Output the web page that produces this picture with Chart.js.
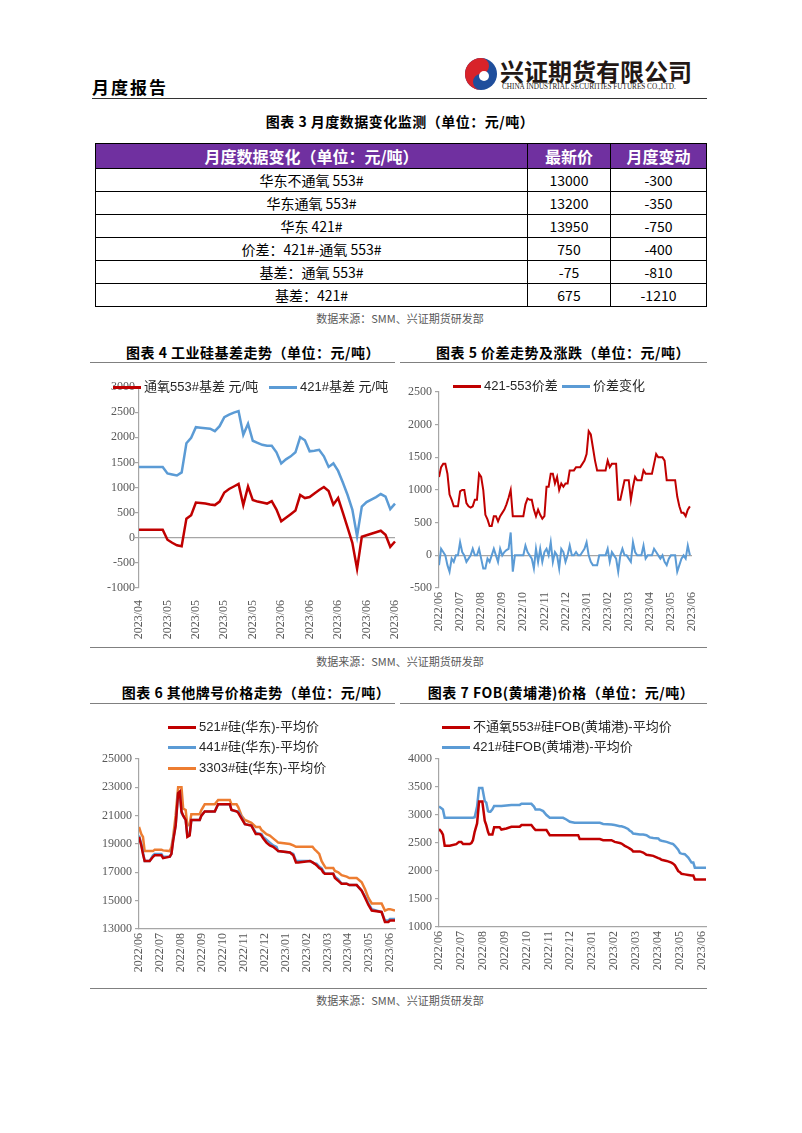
<!DOCTYPE html>
<html>
<head>
<meta charset="utf-8">
<script src="https://cdn.jsdelivr.net/npm/chart.js@4.4.1/dist/chart.umd.min.js"></script>
<style>
  body { margin: 0; background: #fff; }
  #page { position: relative; width: 802px; height: 1133px; overflow: hidden; font-family: "Noto Sans CJK SC", sans-serif; color: #000; }
  .title { position: absolute; font-weight: bold; font-size: 14px; line-height: 20px; white-space: nowrap; transform: translateX(-50%); letter-spacing: 0.5px; }
  .src { position: absolute; font-size: 11px; line-height: 16px; color: #595959; white-space: nowrap; transform: translateX(-50%); }
  .rule { position: absolute; height: 0; border-top: 1.5px solid #808080; }
  .leg { position: absolute; font-family: "Liberation Sans", "Noto Sans CJK SC", sans-serif; font-size: 13px; line-height: 16px; color: #262626; white-space: nowrap; }
  .legline { position: absolute; height: 3px; }
  canvas { position: absolute; }
  #tbl { position: absolute; left: 95px; top: 143px; width: 612px; border-collapse: collapse; border: 1.5px solid #000; font-size: 14px; }
  #tbl td, #tbl th { border: 1px solid #000; text-align: center; padding: 0; }
  #tbl th { background: #7030a0; color: #fff; font-size: 16px; font-weight: bold; height: 23px; }
  #tbl td { height: 22px; }
</style>
</head>
<body>
<div id="page">
  <div style="position:absolute;left:92px;top:75px;font-size:17px;font-weight:bold;letter-spacing:2px;line-height:24px;">月度报告</div>
  <svg width="34" height="34" viewBox="0 0 34 34" style="position:absolute;left:464px;top:57px">
    <circle cx="17" cy="17" r="16" fill="#1f4e9c"/>
    <path d="M17 1 A16 16 0 0 0 17 33 A8 8 0 0 1 17 17 A8 8 0 0 0 17 1Z" fill="#d8232a"/>
    <circle cx="20" cy="19" r="5" fill="#fff"/>
  </svg>
  <div style="position:absolute;left:500px;top:56px;font-size:24px;font-weight:bold;line-height:30px;color:#231815;">兴证期货有限公司</div>
  <div style="position:absolute;left:502px;top:83px;font-family:'Liberation Serif';font-size:7.2px;line-height:9px;color:#231815;white-space:nowrap;">CHINA INDUSTRIAL SECURITIES FUTURES CO.,LTD.</div>
  <div class="rule" style="left:92px;top:98px;width:615px;border-top:1.5px solid #333;"></div>

  <div class="title" style="left:400px;top:111px;">图表 3 月度数据变化监测（单位：元/吨）</div>
  <table id="tbl"></table>
  <div class="src" style="left:400px;top:310px;">数据来源：SMM、兴证期货研发部</div>

  <div class="title" style="left:253px;top:342px;">图表 4 工业硅基差走势（单位：元/吨）</div>
  <div class="title" style="left:563px;top:342px;">图表 5 价差走势及涨跌（单位：元/吨）</div>
  <div class="rule" style="left:90px;top:362px;width:305px;"></div>
  <div class="rule" style="left:400px;top:362px;width:307px;"></div>
  <canvas id="c4" width="306" height="275" style="left:92px;top:370px;"></canvas>
  <canvas id="c5" width="306" height="275" style="left:400px;top:370px;"></canvas>
  <div class="rule" style="left:90px;top:647px;width:617px;"></div>
  <div class="src" style="left:400px;top:653px;">数据来源：SMM、兴证期货研发部</div>

  <div class="title" style="left:256px;top:682px;">图表 6 其他牌号价格走势（单位：元/吨）</div>
  <div class="title" style="left:561px;top:682px;">图表 7 FOB(黄埔港)价格（单位：元/吨）</div>
  <div class="rule" style="left:90px;top:703px;width:305px;"></div>
  <div class="rule" style="left:400px;top:703px;width:307px;"></div>
  <canvas id="c6" width="306" height="245" style="left:92px;top:740px;"></canvas>
  <canvas id="c7" width="310" height="245" style="left:400px;top:740px;"></canvas>
  <div class="rule" style="left:90px;top:988px;width:617px;"></div>
  <div class="src" style="left:400px;top:992px;">数据来源：SMM、兴证期货研发部</div>
</div>

<script>
// table 3
const tableHead = ['月度数据变化（单位：元/吨）', '最新价', '月度变动'];
const tableItems = ['华东不通氧 553#', '华东通氧 553#', '华东 421#', '价差：421#-通氧 553#', '基差：通氧 553#', '基差：421#'];
const latestPrice = [13000, 13200, 13950, 750, -75, 675];
const monthlyChange = [-300, -350, -750, -400, -810, -1210];

// chart 4: basis, daily points
const basisTicks = ['2023/04', '2023/05', '2023/05', '2023/05', '2023/05', '2023/06', '2023/06', '2023/06', '2023/06', '2023/06'];
const basis553 = [160, 160, 160, 160, 160, 160, -40, -100, -150, -170, 380, 450, 700, 690, 680, 660, 650, 720, 900, 970,
  1020, 1070, 650, 1020, 750, 720, 700, 680, 730, 560, 330, 400, 470, 540, 850, 790, 810, 880, 950, 1010,
  930, 660, 790, 500, 200, -100, -620, 20, 50, 80, 110, 140, 60, -180, -75];
const basis421 = [1410, 1410, 1410, 1410, 1410, 1410, 1280, 1260, 1240, 1300, 1880, 1990, 2200, 2190, 2180, 2170, 2120, 2220, 2400, 2450,
  2490, 2520, 2050, 2270, 1930, 1890, 1850, 1830, 1830, 1700, 1480, 1560, 1620, 1700, 2000, 1940, 1720, 1730, 1750, 1620,
  1410, 1480, 1330, 1100, 850, 560, 30, 620, 710, 760, 810, 870, 820, 570, 680];

// month tick labels shared by charts 5-7
const monthTicks = ['2022/06', '2022/07', '2022/08', '2022/09', '2022/10', '2022/11', '2022/12', '2023/01', '2023/02', '2023/03', '2023/04', '2023/05', '2023/06'];

// chart 5: 421-553 spread, 10 samples per month
const spread = [1200, 1350, 1400, 1400, 1250, 930, 850, 750, 750, 750, 980, 1000, 1000, 800, 750, 730, 750, 850, 850, 1250,
  1200, 1000, 620, 550, 450, 450, 600, 600, 520, 600, 650, 700, 780, 880, 1000, 600, 600, 600, 600, 600,
  600, 780, 870, 850, 850, 700, 600, 700, 620, 560, 600, 1050, 1050, 1250, 1250, 1100, 1200, 1000, 1100, 1050,
  1100, 1100, 1300, 1300, 1300, 1350, 1350, 1350, 1400, 1450, 1550, 1900, 1850, 1650, 1450, 1300, 1300, 1300, 1300, 1300,
  1450, 1350, 1400, 1400, 1400, 850, 850, 1000, 1150, 1150, 1150, 850, 1050, 1200, 1150, 1150, 1150, 1300, 1250, 1250,
  1250, 1250, 1400, 1550, 1500, 1500, 1500, 1450, 1150, 1150, 1150, 1150, 1150, 900, 750, 650, 650, 600, 700, 750];
const spreadChange = [-150, 100, 50, 0, -150, -250, -50, -100, 0, 0, 200, 50, 0, -100, -50, 0, 100, 0, 0, 100,
  -50, -200, -200, -50, -100, 0, 100, 0, -100, 100, 0, 50, 80, 100, 350, -250, 0, 0, 0, 0,
  0, 150, 50, 0, -50, -200, 100, -100, 100, -100, 50, 100, 0, 200, -100, 50, 0, -200, 100, 50,
  -100, 0, 150, 0, 0, 50, 0, 0, 50, 100, 200, 0, -100, -150, -150, -150, 0, 0, 0, 0,
  100, -100, 50, 0, -50, -250, 0, 100, 0, 0, -50, -100, 200, 50, 0, 0, 0, 150, -50, 0,
  0, 0, 100, 50, 0, -50, 0, -100, -150, -50, 0, 0, 0, -250, -150, -50, 0, -50, 150, 0];
const samplesPerMonth = 10;

// chart 6: grade prices, time in months from 2022/06
const gradeMonths = [0, 0.11, 0.19, 0.27, 0.51, 0.67, 0.75, 1.07, 1.15, 1.47, 1.55, 1.63, 1.75, 1.87, 1.95, 2.03, 2.11, 2.23, 2.31, 2.42,
  2.50, 2.90, 2.98, 3.14, 3.62, 3.78, 4.34, 4.42, 4.66, 4.74, 4.90, 5.06, 5.37, 5.58, 5.77, 5.85, 5.93, 6.09, 6.25, 6.41,
  6.57, 6.65, 7.21, 7.37, 7.50, 7.61, 8.17, 8.29, 8.40, 8.48, 8.61, 8.72, 8.80, 8.88, 8.93, 9.28, 9.36, 9.52, 9.68, 9.92,
  10.05, 10.40, 10.64, 10.80, 10.96, 11.12, 11.59, 11.75, 11.91, 11.99, 12.23];
const price521 = [19500, 18900, 18300, 17800, 17800, 18100, 18200, 18200, 18000, 18100, 18300, 19200, 20300, 22600, 22700, 21300, 21000, 20700, 19500, 19600,
  20700, 20700, 21000, 21300, 21300, 21800, 21800, 21400, 21300, 21200, 20800, 20400, 20300, 19700, 19700, 19600, 19400, 19100, 18900, 18800,
  18600, 18500, 18400, 18200, 17700, 17700, 17800, 17700, 17600, 17500, 17300, 17200, 17000, 16900, 16900, 16900, 16600, 16400, 16200, 16200,
  16100, 16100, 15700, 15200, 14700, 14300, 14200, 13500, 13500, 13600, 13600];
const price441 = [19600, 19000, 18400, 17800, 17800, 18200, 18300, 18300, 18100, 18100, 18300, 19300, 20300, 22600, 22700, 21200, 21000, 20700, 19600, 19700,
  20700, 20700, 21000, 21300, 21300, 21800, 21800, 21400, 21300, 21300, 20900, 20400, 20300, 19800, 19700, 19700, 19500, 19300, 19100, 18900,
  18800, 18500, 18400, 18300, 17800, 17800, 17800, 17700, 17600, 17600, 17400, 17300, 17100, 16900, 16900, 16900, 16700, 16500, 16200, 16200,
  16100, 16100, 15700, 15300, 14800, 14400, 14200, 13600, 13600, 13700, 13700];
const price3303 = [20200, 19700, 19500, 18500, 18500, 18500, 18600, 18600, 18550, 18500, 18800, 19500, 21000, 23000, 23000, 23000, 21500, 21400, 20300, 20400,
  21100, 21100, 21400, 21800, 21800, 22100, 22100, 21800, 21800, 21600, 21000, 20700, 20500, 20200, 20200, 20000, 19900, 19700, 19600, 19400,
  19200, 19100, 19000, 18900, 18800, 18800, 18800, 18800, 18600, 18500, 18300, 17800, 17600, 17400, 17300, 17300, 17100, 17000, 16800, 16700,
  16600, 16600, 16300, 15800, 15200, 14800, 14800, 14300, 14400, 14400, 14300];

// chart 7: FOB Huangpu, time in months from 2022/06
const fobMonths = [0, 0.11, 0.18, 0.26, 0.49, 0.79, 0.91, 1.02, 1.10, 1.40, 1.48, 1.55, 1.63, 1.74, 1.83, 1.98, 2.09, 2.16, 2.24, 2.29,
  2.35, 2.44, 2.52, 2.77, 2.85, 3.08, 3.31, 3.38, 3.69, 3.77, 4.22, 4.34, 4.41, 4.60, 4.76, 4.91, 5.06, 5.67, 5.82, 5.98,
  6.20, 6.36, 6.43, 7.35, 7.50, 7.88, 8.03, 8.26, 8.34, 8.49, 8.64, 8.72, 8.80, 8.87, 9.18, 9.33, 9.48, 9.63, 9.79, 10.02,
  10.09, 10.17, 10.40, 10.62, 10.70, 10.78, 10.93, 11.01, 11.08, 11.23, 11.39, 11.54, 11.62, 11.69, 12.20];
const fob553 = [2750, 2700, 2650, 2450, 2450, 2480, 2520, 2520, 2480, 2480, 2500, 2550, 2700, 2850, 3240, 3240, 2900, 2820, 2700, 2650,
  2650, 2650, 2780, 2780, 2740, 2760, 2790, 2790, 2790, 2820, 2820, 2760, 2730, 2730, 2730, 2730, 2640, 2640, 2640, 2640,
  2640, 2640, 2570, 2570, 2550, 2550, 2520, 2500, 2490, 2450, 2420, 2400, 2380, 2350, 2350, 2330, 2290, 2280, 2270, 2230,
  2220, 2200, 2180, 2150, 2130, 2100, 2000, 1980, 1950, 1940, 1930, 1920, 1920, 1850, 1850];
const fob421 = [3150, 3120, 3100, 2950, 2950, 2950, 2950, 2950, 2950, 2950, 2950, 2950, 2960, 3150, 3480, 3480, 3250, 3220, 3070, 3060,
  3060, 3100, 3160, 3160, 3160, 3170, 3180, 3180, 3180, 3200, 3200, 3150, 3100, 3100, 3070, 3000, 2950, 2950, 2920, 2880,
  2860, 2860, 2860, 2860, 2840, 2830, 2820, 2800, 2800, 2780, 2750, 2720, 2700, 2670, 2650, 2650, 2640, 2600, 2590, 2580,
  2550, 2540, 2520, 2490, 2480, 2450, 2380, 2320, 2310, 2300, 2240, 2150, 2150, 2060, 2060];

const RED = '#c00000';
const BLUE = '#5b9bd5';
const ORANGE = '#ed7d31';
const GRAY = '#a6a6a6';
const TICK_COLOR = '#595959';
const TICK_FONT = { family: "'Liberation Serif', 'Times New Roman', serif", size: 12 };

// build the table
const tbl = document.getElementById('tbl');
let html = '<tr>' + tableHead.map(h => `<th>${h}</th>`).join('') + '</tr>';
tableItems.forEach((name, i) => {
  html += `<tr><td style="width:431px">${name}</td><td style="width:82px">${latestPrice[i]}</td><td>${monthlyChange[i]}</td></tr>`;
});
tbl.innerHTML = html;

// html legends
function legend(x, y, color, text) {
  const page = document.getElementById('page');
  const line = document.createElement('div');
  line.className = 'legline';
  line.style.cssText = `left:${x}px;top:${y - 1.5}px;width:28px;background:${color};`;
  page.appendChild(line);
  const label = document.createElement('div');
  label.className = 'leg';
  label.style.left = (x + 31) + 'px';
  label.style.top = (y - 8) + 'px';
  label.textContent = text;
  page.appendChild(label);
}
legend(113, 387, RED, '通氧553#基差 元/吨');
legend(269, 387, BLUE, '421#基差 元/吨');
legend(453, 386, RED, '421-553价差');
legend(562, 386, BLUE, '价差变化');
legend(168, 727, RED, '521#硅(华东)-平均价');
legend(168, 747, BLUE, '441#硅(华东)-平均价');
legend(168, 768, ORANGE, '3303#硅(华东)-平均价');
legend(442, 727, RED, '不通氧553#硅FOB(黄埔港)-平均价');
legend(442, 747, BLUE, '421#硅FOB(黄埔港)-平均价');

function yAxis(min, max, step, width, zeroLine, pad) {
  return {
    min, max,
    ticks: { stepSize: step, color: TICK_COLOR, font: TICK_FONT, padding: pad, callback: v => String(v) },
    grid: {
      drawOnChartArea: zeroLine,
      color: ctx => (zeroLine && ctx.tick && ctx.tick.value === 0) ? GRAY : 'rgba(0,0,0,0)',
      tickColor: GRAY, tickLength: 4, lineWidth: 1.2
    },
    border: { display: true, color: GRAY, width: 1.2 },
    afterFit: s => { s.width = width; s.paddingTop = 0; s.paddingBottom = 0; }
  };
}

function monthAxis(max, height, showBorder) {
  return {
    type: 'linear', min: 0, max,
    ticks: {
      stepSize: 1, includeBounds: false, autoSkip: false, maxRotation: 90, minRotation: 90,
      color: TICK_COLOR, font: TICK_FONT, padding: 4,
      callback: v => monthTicks[v]
    },
    grid: { display: true, drawOnChartArea: false, drawTicks: false },
    border: { display: showBorder, color: GRAY, width: 1.2 },
    afterFit: s => { s.height = height; s.paddingLeft = 0; s.paddingRight = 0; }
  };
}

function line(data, color, width) {
  return { data, borderColor: color, backgroundColor: color, borderWidth: width, pointRadius: 0, tension: 0, fill: false };
}

function options(scales, padding) {
  return {
    responsive: false,
    animation: false,
    layout: { padding },
    plugins: { legend: { display: false }, tooltip: { enabled: false } },
    scales
  };
}

// chart 4
new Chart(document.getElementById('c4'), {
  type: 'line',
  data: {
    labels: basis553.map((_, i) => i),
    datasets: [line(basis553, RED, 2.5), line(basis421, BLUE, 2.5)]
  },
  options: options({
    x: {
      ticks: {
        autoSkip: false, maxRotation: 90, minRotation: 90, color: TICK_COLOR, font: TICK_FONT, padding: 4,
        callback: (v, i) => (i % 6 === 0 ? basisTicks[i / 6] : '')
      },
      grid: { display: false },
      border: { display: false },
      afterFit: s => { s.height = 57; s.paddingLeft = 0; s.paddingRight = 0; }
    },
    y: yAxis(-1000, 3000, 500, 47, true, 0)
  }, { top: 17, right: 3, bottom: 0, left: 0 })
});

// chart 5
const toPoints = (arr) => arr.map((v, i) => ({ x: i / samplesPerMonth, y: v }));
new Chart(document.getElementById('c5'), {
  type: 'line',
  data: { datasets: [line(toPoints(spread), RED, 2), line(toPoints(spreadChange), BLUE, 2)] },
  options: options({
    x: monthAxis(12, 57, false),
    y: yAxis(-500, 2500, 500, 39, true, 3)
  }, { top: 22, right: 14, bottom: 0, left: 0 })
});

// chart 6
const withTime = (xs, ys) => ys.map((v, i) => ({ x: xs[i], y: v }));
new Chart(document.getElementById('c6'), {
  type: 'line',
  data: {
    datasets: [
      line(withTime(gradeMonths, price521), RED, 2.5),
      line(withTime(gradeMonths, price441), BLUE, 2.5),
      line(withTime(gradeMonths, price3303), ORANGE, 2.5)
    ]
  },
  options: options({
    x: monthAxis(12.23, 56, true),
    y: yAxis(13000, 25000, 2000, 47, false, 3)
  }, { top: 19, right: 3, bottom: 0, left: 0 })
});

// chart 7
new Chart(document.getElementById('c7'), {
  type: 'line',
  data: {
    datasets: [
      line(withTime(fobMonths, fob553), RED, 2.5),
      line(withTime(fobMonths, fob421), BLUE, 2.5)
    ]
  },
  options: options({
    x: monthAxis(12.2, 58, true),
    y: yAxis(1000, 4000, 500, 39, false, 3)
  }, { top: 19, right: 4, bottom: 0, left: 0 })
});
</script>
</body>
</html>
